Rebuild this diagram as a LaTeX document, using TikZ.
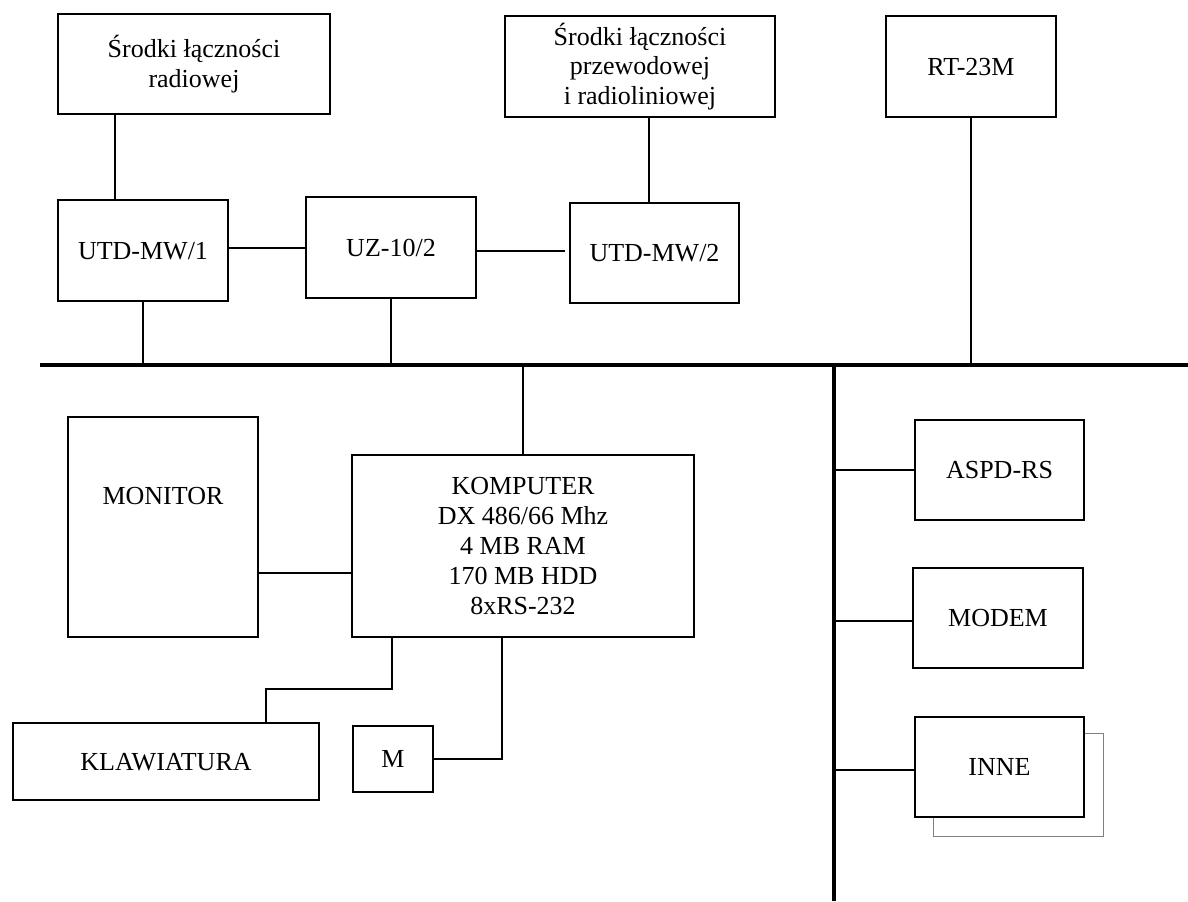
\documentclass[tikz,border=0pt]{standalone}
\usepackage{fontspec}
\setmainfont{Liberation Serif}
\newcommand\txt{\fontsize{19.5}{22.4}\selectfont}
\tikzset{
  box/.style 2 args={draw, line width=1.3pt, fill=white, inner sep=0pt,
    minimum width=#1*0.75pt, minimum height=#2*0.75pt, align=center, font=\txt},
  one/.style={text height=12.9pt, text depth=0pt},
  shadowbox/.style 2 args={draw=gray, line width=0.7pt, fill=white, inner sep=0pt,
    minimum width=#1*0.75pt, minimum height=#2*0.75pt},
  conn/.style={line width=1.1pt},
  thickconn/.style={line width=1.7pt},
  bus/.style={line width=3.6pt}
}
\begin{document}
\begin{tikzpicture}[x=0.75pt,y=-0.75pt]
\useasboundingbox (0,0) rectangle (1188,901);
\fill[white] (0,0) rectangle (1188,901);

% helper coordinates
\coordinate (c115) at (115,0);
\coordinate (c649) at (649,0);
\coordinate (c392) at (392,0);
\coordinate (c266) at (266,0);
\coordinate (c502) at (502,0);
\coordinate (r248) at (0,248);
\coordinate (r251) at (0,251);
\coordinate (r573) at (0,573);
\coordinate (r689) at (0,689);
\coordinate (r621) at (0,621);
\coordinate (r770) at (0,770);
\coordinate (busL) at (40,365);
\coordinate (busR) at (1188,365);
\coordinate (vT) at (834,365);
\coordinate (vB) at (834,901);

% boxes
\node[box={272}{100}] (radio) at (194,64) {Środki łączności\\radiowej};
\node[box={270}{101}] (przew) at (640,66.5) {Środki łączności\\przewodowej\\i radioliniowej};
\node[box={170}{101}, one] (rt) at (971,66.5) {RT-23M};
\node[box={170}{101}, one] (utd1) at (143,250.5) {UTD-MW/1};
\node[box={170}{101}, one] (uz) at (391,247.5) {UZ-10/2};
\node[box={169}{100}, one] (utd2) at (654.5,253) {UTD-MW/2};
\node[box={190}{220}] (mon) at (163,527) {};
\node[font=\txt, inner sep=0pt, one] (monl) at (163,496) {MONITOR};
\node[box={342}{182}] (komp) at (523,546) {KOMPUTER\\DX 486/66 Mhz\\4 MB RAM\\170 MB HDD\\8xRS-232};
\node[box={306}{77}, one] (klaw) at (166,761.5) {KLAWIATURA};
\node[box={80}{66}, one] (m) at (393,759) {M};
\node[box={169}{100}, one] (aspd) at (999.5,470) {ASPD-RS};
\node[box={170}{100}, one] (modem) at (998,618) {MODEM};
\node[shadowbox={170}{103}] (inneS) at (1018,784.5) {};
\node[box={169}{100}, one] (inne) at (999.5,767) {INNE};

% buses
\draw[bus] (busL) -- (busR);
\draw[bus] (vT) -- (vB);

% connectors
\draw[conn] (radio.south -| c115) -- (utd1.north -| c115);
\draw[conn] (przew.south -| c649) -- (utd2.north -| c649);
\draw[conn] (rt.south) -- (rt.south |- busL);
\draw[thickconn] (utd1.east |- r248) -- (uz.west |- r248);
\draw[conn] (uz.east |- r251) -- ([xshift=-3pt]utd2.west |- r251);
\draw[conn] (utd1.south) -- (utd1.south |- busL);
\draw[conn] (uz.south) -- (uz.south |- busL);
\draw[conn] (komp.north) -- (komp.north |- busL);
\draw[conn] (mon.east |- r573) -- (komp.west |- r573);
\draw[conn] (komp.south -| c392) -- (c392 |- r689) -- (c266 |- r689) -- (klaw.north -| c266);
\draw[conn] (komp.south -| c502) |- (m.east);
\draw[conn] (vT |- aspd.west) -- (aspd.west);
\draw[conn] (vT |- r621) -- (modem.west |- r621);
\draw[conn] (vT |- r770) -- (inne.west |- r770);
\end{tikzpicture}
\end{document}
